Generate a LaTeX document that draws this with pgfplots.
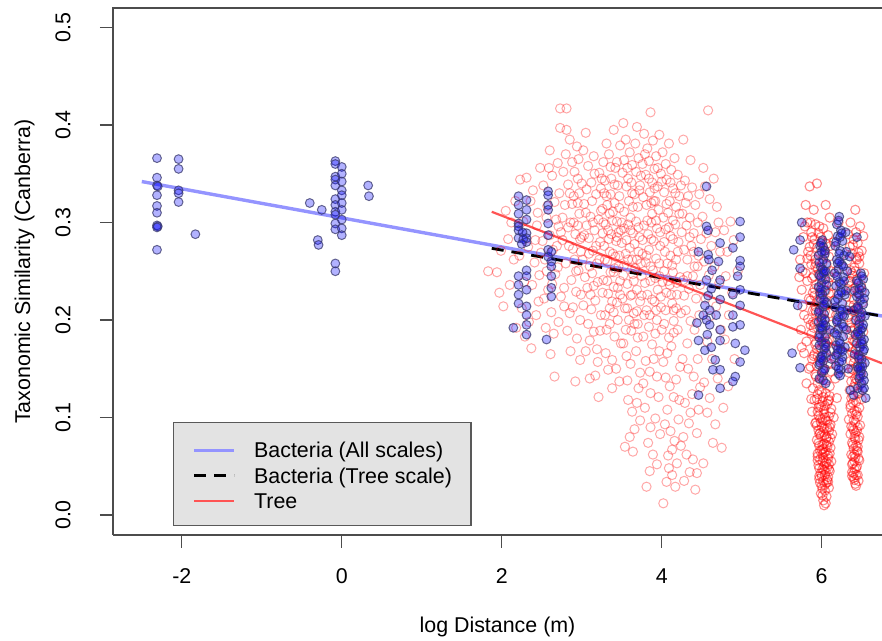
\documentclass[border=0pt]{standalone}
\usepackage{fontspec}
\setmainfont{Liberation Sans}
\usepackage{pgfplots}
\pgfplotsset{compat=1.18}
\definecolor{bline}{rgb}{0.58,0.58,1}
\definecolor{bedge}{rgb}{0.22,0.22,0.42}
\definecolor{rline}{rgb}{1,0.33,0.33}
\begin{document}
\fontsize{10.7pt}{12.8pt}\selectfont
\begin{tikzpicture}
\begin{axis}[
 at={(0pt,0pt)}, anchor=south west,
 scale only axis, width=384.5pt, height=263.35pt,
 xmin=-2.86, xmax=6.754, ymin=-0.0205, ymax=0.5197,
 axis x line*=bottom, axis y line*=left,
 axis line style={black!70, line width=1pt},
 tick align=outside, major tick length=6.5pt,
 major tick style={black!70, line width=0.7pt},
 xtick={-2,0,2,4,6}, xticklabels={-2,0,2,4,6},
 ytick={0,0.1,0.2,0.3,0.4,0.5}, yticklabels={0.0,0.1,0.2,0.3,0.4,0.5},
 tick label style={font=\fontsize{10.7pt}{12.8pt}\selectfont},
 label style={font=\fontsize{10.7pt}{12.8pt}\selectfont},
 xticklabel style={anchor=center, yshift=-14.25pt},
 yticklabel style={xshift=-18.5pt, rotate=90, anchor=center},
 xlabel={log Distance (m)}, ylabel={Taxonomic Similarity (Canberra)},
 xlabel style={at={(axis description cs:0.5,-0.1754)}, anchor=center},
 ylabel style={at={(axis description cs:-0.1151,0.5)}, anchor=center},
 legend style={at={(axis cs:-2.109,-0.0113)}, anchor=south west, fill=gray!22, draw=black!65, line width=0.7pt,
   inner xsep=9.5pt, inner ysep=7.65pt, row sep=2.2pt, column sep=9pt,
   font=\fontsize{10.7pt}{12.8pt}\selectfont,
   nodes={inner sep=0pt, text height=10pt, text depth=0.55pt},
   cells={anchor=base west}},
 legend image code/.code={\draw[#1] (0pt,3.8pt) -- (20pt,3.8pt);},
 after end axis/.code={\draw[black!70, line width=1pt, line join=miter] (rel axis cs:0,0.5) -- (rel axis cs:0,1) -- (rel axis cs:1,1);},
]
% Tree points: main cloud
\addplot[only marks, mark=o, mark size=2.3pt, forget plot,
  mark options={draw=red, draw opacity=0.34, line width=0.5pt}] coordinates {
(1.83,.250) (1.94,.249) (2.02,.214) (2.08,.283) (2.12,.300) (1.97,.228) (2.15,.262) (2.05,.312) (2.18,.192) (2.10,.236) (1.99,.271) (2.17,.322)
(2.23,.344) (2.27,.301) (2.33,.275) (2.36,.322) (2.41,.259) (2.44,.297) (2.48,.356) (2.25,.212) (2.29,.183) (2.38,.236) (2.46,.219) (2.39,.333) (2.42,.282) (2.47,.246) (2.34,.198) (2.31,.346) (2.45,.310) (2.22,.266) (2.37,.171) (2.49,.269) (2.28,.239) (2.43,.205)
(2.73,.417) (2.73,.397) (2.52,.338) (2.56,.305) (2.60,.287) (2.63,.348) (2.66,.321) (2.70,.361) (2.71,.296) (2.54,.262) (2.58,.231) (2.62,.208) (2.67,.247) (2.69,.276) (2.72,.330) (2.55,.192) (2.61,.165) (2.65,.186) (2.74,.224) (2.59,.356) (2.64,.272) (2.68,.303) (2.51,.281) (2.57,.317) (2.70,.254) (2.53,.222) (2.66,.142) (2.74,.290) (2.60,.374) (2.63,.237) (2.71,.198) (2.56,.250)
(2.81,.417) (2.81,.395) (2.94,.378) (2.98,.200) (2.85,.207) (2.98,.159) (2.77,.352) (2.79,.318) (2.83,.339) (2.86,.300) (2.88,.362) (2.90,.327) (2.92,.288) (2.95,.345) (2.97,.309) (2.99,.270) (2.76,.282) (2.80,.258) (2.84,.276) (2.87,.241) (2.91,.262) (2.93,.229) (2.96,.251) (2.78,.233) (2.82,.189) (2.89,.213) (2.94,.181) (2.99,.226) (2.86,.168) (2.76,.305) (2.83,.295) (2.88,.319) (2.91,.352) (2.95,.297) (2.97,.330) (2.80,.370) (2.85,.385) (2.92,.137) (2.98,.283) (2.89,.273) (2.78,.214) (2.96,.365)
(3.02,.374) (3.10,.179) (3.20,.157) (3.21,.121) (3.05,.392) (3.08,.358) (3.12,.341) (3.15,.368) (3.18,.329) (3.22,.351) (3.24,.312) (3.03,.319) (3.06,.297) (3.09,.284) (3.11,.306) (3.14,.271) (3.16,.292) (3.19,.258) (3.23,.280) (3.01,.262) (3.04,.244) (3.07,.233) (3.13,.248) (3.17,.220) (3.20,.239) (3.24,.205) (3.02,.215) (3.08,.196) (3.12,.211) (3.15,.188) (3.19,.170) (3.23,.189) (3.05,.168) (3.10,.140) (3.17,.143) (3.06,.334) (3.13,.322) (3.21,.303) (3.09,.268) (3.18,.276) (3.03,.287) (3.14,.300) (3.22,.262) (3.11,.226) (3.16,.350) (3.24,.335)
(3.31,.381) (3.40,.395) (3.31,.190) (3.33,.149) (3.38,.130) (3.27,.362) (3.29,.343) (3.34,.370) (3.36,.329) (3.42,.356) (3.45,.338) (3.48,.379) (3.26,.314) (3.30,.298) (3.35,.309) (3.37,.288) (3.41,.320) (3.44,.301) (3.47,.315) (3.49,.292) (3.28,.276) (3.32,.260) (3.39,.268) (3.43,.281) (3.46,.255) (3.27,.241) (3.33,.227) (3.36,.249) (3.40,.234) (3.44,.218) (3.48,.240) (3.29,.205) (3.35,.196) (3.41,.183) (3.45,.200) (3.49,.176) (3.30,.166) (3.38,.159) (3.43,.150) (3.47,.137) (3.26,.289) (3.34,.283) (3.39,.311) (3.42,.265) (3.46,.290) (3.28,.330) (3.37,.345) (3.44,.362) (3.32,.318) (3.40,.249) (3.48,.226) (3.35,.212)
(3.52,.402) (3.69,.398) (3.52,.176) (3.57,.138) (3.54,.070) (3.64,.065) (3.73,.097) (3.73,.146) (3.65,.207) (3.55,.385) (3.60,.372) (3.63,.359) (3.67,.381) (3.71,.366) (3.74,.348) (3.51,.351) (3.56,.337) (3.59,.322) (3.62,.341) (3.66,.329) (3.70,.316) (3.53,.311) (3.58,.298) (3.61,.305) (3.64,.289) (3.68,.301) (3.72,.285) (3.50,.279) (3.55,.268) (3.60,.274) (3.63,.262) (3.67,.253) (3.71,.270) (3.74,.258) (3.52,.246) (3.57,.237) (3.61,.225) (3.65,.240) (3.69,.231) (3.73,.219) (3.54,.212) (3.59,.200) (3.62,.189) (3.66,.196) (3.70,.182) (3.56,.163) (3.61,.155) (3.68,.168) (3.71,.130) (3.58,.118) (3.63,.106) (3.66,.088) (3.60,.080) (3.69,.115) (3.53,.294) (3.64,.316) (3.72,.333) (3.57,.356)
(3.86,.413) (3.81,.029) (3.86,.090) (3.86,.125) (3.94,.142) (3.77,.183) (3.94,.200) (3.78,.391) (3.82,.376) (3.89,.384) (3.93,.368) (3.97,.390) (3.76,.360) (3.80,.349) (3.84,.363) (3.88,.341) (3.91,.355) (3.95,.337) (3.99,.350) (3.77,.326) (3.81,.318) (3.85,.331) (3.88,.309) (3.92,.322) (3.96,.313) (3.78,.297) (3.83,.288) (3.87,.300) (3.90,.281) (3.94,.294) (3.98,.276) (3.76,.268) (3.80,.259) (3.84,.272) (3.89,.251) (3.93,.263) (3.97,.245) (3.79,.238) (3.82,.226) (3.86,.240) (3.91,.219) (3.95,.231) (3.99,.213) (3.78,.205) (3.84,.193) (3.88,.175) (3.92,.186) (3.97,.168) (3.80,.158) (3.85,.147) (3.90,.160) (3.96,.121) (3.79,.110) (3.83,.074) (3.89,.062) (3.92,.099) (3.98,.083) (3.85,.045) (3.94,.052) (3.77,.135) (3.91,.335) (3.87,.283)
(4.02,.012) (4.13,.041) (4.19,.053) (4.07,.108) (4.15,.121) (4.23,.152) (4.07,.166) (4.15,.187) (4.15,.210) (4.01,.372) (4.05,.360) (4.09,.381) (4.12,.354) (4.16,.366) (4.20,.349) (4.24,.338) (4.03,.331) (4.06,.344) (4.10,.322) (4.14,.335) (4.18,.316) (4.22,.327) (4.02,.305) (4.05,.293) (4.08,.310) (4.11,.286) (4.17,.298) (4.21,.280) (4.04,.270) (4.07,.258) (4.11,.266) (4.14,.249) (4.18,.262) (4.23,.244) (4.01,.239) (4.06,.228) (4.10,.236) (4.13,.217) (4.19,.226) (4.24,.207) (4.03,.196) (4.09,.182) (4.12,.173) (4.20,.190) (4.05,.141) (4.10,.132) (4.18,.139) (4.22,.118) (4.04,.093) (4.11,.086) (4.16,.076) (4.21,.098) (4.08,.061) (4.13,.067) (4.24,.071) (4.06,.034) (4.17,.029) (4.09,.048) (4.02,.157) (4.14,.302)
(4.27,.385) (4.36,.364) (4.27,.080) (4.44,.084) (4.36,.105) (4.40,.142) (4.48,.131) (4.32,.176) (4.42,.026) (4.44,.043) (4.29,.343) (4.33,.327) (4.38,.336) (4.42,.318) (4.47,.329) (4.26,.309) (4.31,.297) (4.35,.305) (4.40,.289) (4.45,.300) (4.49,.283) (4.28,.272) (4.32,.262) (4.37,.276) (4.41,.255) (4.46,.266) (4.27,.241) (4.34,.232) (4.39,.245) (4.43,.222) (4.48,.236) (4.30,.210) (4.36,.199) (4.41,.190) (4.47,.205) (4.26,.160) (4.33,.150) (4.38,.124) (4.45,.160) (4.29,.115) (4.34,.094) (4.46,.108) (4.31,.062) (4.39,.057) (4.28,.035) (4.35,.044)
(4.52,.356) (4.58,.415) (4.69,.316) (4.52,.053) (4.64,.074) (4.75,.069) (4.57,.105) (4.54,.337) (4.60,.324) (4.65,.345) (4.71,.300) (4.51,.306) (4.56,.289) (4.62,.276) (4.67,.290) (4.73,.270) (4.53,.260) (4.59,.246) (4.66,.255) (4.72,.238) (4.55,.222) (4.61,.204) (4.68,.214) (4.74,.190) (4.57,.178) (4.63,.160) (4.70,.140) (4.53,.136) (4.60,.120) (4.67,.093)
(4.78,.292) (4.82,.270) (4.86,.301) (4.80,.245) (4.88,.228) (4.84,.205) (4.79,.180) (4.91,.160) (4.83,.132) (4.95,.250) (4.77,.110) (4.90,.282)
(3.25,.345) (3.31,.327) (3.36,.357) (3.41,.339) (3.47,.327) (3.53,.364) (3.58,.345) (3.63,.330) (3.68,.352) (3.73,.338) (3.79,.370) (3.84,.345) (3.90,.322) (3.95,.356) (4.00,.342) (4.06,.319) (4.11,.341) (4.17,.330) (4.22,.309) (3.27,.300) (3.33,.292) (3.38,.302) (3.44,.285) (3.50,.300) (3.56,.282) (3.61,.292) (3.66,.278) (3.71,.295) (3.76,.282) (3.82,.302) (3.87,.320) (3.93,.302) (3.98,.290) (4.03,.280) (4.09,.295) (4.14,.283) (4.20,.270) (4.25,.290) (3.29,.262) (3.35,.270) (3.41,.253) (3.47,.266) (3.53,.256) (3.58,.262) (3.64,.247) (3.69,.262) (3.75,.245) (3.81,.266) (3.86,.255) (3.92,.243) (3.97,.258) (4.03,.250) (4.08,.240) (4.13,.256) (4.19,.238) (3.26,.228) (3.32,.240) (3.38,.219) (3.45,.233) (3.51,.222) (3.57,.212) (3.63,.226) (3.69,.209) (3.75,.225) (3.81,.210) (3.88,.221) (3.93,.210) (3.99,.224) (4.05,.210) (4.12,.226) (4.18,.212) (3.40,.208) (3.55,.190) (3.70,.196) (3.85,.205) (4.00,.190) (4.15,.199) (4.28,.225) (2.95,.320) (3.00,.340) (3.05,.310) (2.90,.300) (2.85,.330) (3.00,.285) (3.10,.255) (2.93,.250) (3.15,.235) (4.30,.320) (4.35,.285) (4.40,.270) (4.45,.255) (4.32,.245)
};
% Tree points: dense columns
\addplot[only marks, mark=o, mark size=2.3pt, forget plot,
  mark options={draw=red, draw opacity=0.45, line width=0.55pt}] coordinates {
(5.85,.337) (5.94,.340) (5.90,.313) (6.05,.318) (5.82,.300) (6.10,.305)
(5.73,.262) (5.75,.231) (5.77,.285) (5.78,.205) (5.80,.248) (5.81,.178) (5.83,.270) (5.84,.222) (5.86,.195) (5.87,.257) (5.88,.160) (5.74,.190) (5.76,.214) (5.79,.296) (5.82,.240) (5.85,.275) (5.89,.228) (5.72,.244) (5.78,.166) (5.84,.150) (5.86,.300) (5.80,.318) (5.88,.285) (5.83,.201) (5.76,.250) (5.81,.135) (5.87,.119) (5.75,.172) (5.89,.210) (5.82,.263)
(5.92,.298) (6.02,.294) (5.96,.289) (6.08,.287) (5.91,.283) (6.00,.280) (6.11,.276) (5.94,.274) (6.04,.271) (5.98,.268) (6.09,.265) (5.92,.262) (6.01,.259) (6.06,.256) (5.95,.253) (6.12,.250) (5.99,.248) (5.90,.245) (6.03,.242) (6.08,.239) (5.93,.236) (5.97,.233) (6.05,.230) (6.11,.228) (5.91,.225) (6.00,.222) (5.95,.219) (6.07,.216) (6.02,.213) (5.92,.210) (6.10,.207) (5.98,.204) (6.04,.201) (5.94,.198) (6.12,.195) (5.90,.192) (6.01,.189) (6.06,.186) (5.96,.183) (6.09,.180) (5.93,.177) (6.03,.174) (5.99,.171) (6.11,.168) (5.91,.165) (6.05,.162) (5.97,.159) (6.08,.156) (5.94,.153) (6.02,.150) (6.12,.147) (5.92,.144) (6.00,.141) (6.06,.138) (5.95,.135) (6.10,.132)
(5.97,.296) (6.06,.278) (5.93,.258) (6.10,.244) (5.98,.226) (6.04,.209) (5.91,.196) (6.07,.178) (5.95,.163) (6.01,.148) (5.99,.285) (6.03,.266) (5.96,.247) (6.09,.227) (5.92,.214) (6.00,.199) (6.05,.184) (5.94,.170) (6.11,.155) (5.98,.139)
(5.97,.128) (6.05,.125) (6.10,.122) (5.94,.119) (6.01,.116) (6.07,.114) (5.99,.111) (6.12,.109) (5.95,.106) (6.03,.104) (6.09,.101) (5.98,.099) (6.05,.097) (5.93,.095) (6.11,.093) (6.00,.091) (6.07,.089) (5.96,.087) (6.02,.085) (6.13,.083) (5.99,.081) (6.06,.079) (5.94,.077) (6.09,.075) (6.03,.073) (5.97,.071) (6.11,.069) (6.00,.067) (6.05,.065) (5.95,.063) (6.08,.061) (6.02,.059) (5.98,.057) (6.12,.055) (6.04,.053) (5.96,.051) (6.07,.049) (6.01,.047) (6.10,.045) (5.99,.043) (6.04,.041) (6.08,.039) (5.97,.037) (6.02,.035) (6.06,.033) (6.00,.030) (6.09,.028) (6.04,.025) (5.99,.022) (6.06,.019) (6.02,.015)
(6.00,.126) (6.08,.117) (5.96,.110) (6.04,.100) (6.10,.090) (5.98,.084) (6.06,.072) (6.01,.062) (5.95,.056) (6.09,.052) (6.03,.046) (5.97,.040) (6.07,.036) (6.01,.027) (6.05,.012) (6.03,.108) (5.99,.095) (6.06,.080) (6.02,.068) (6.08,.058)
(5.95,.124) (6.02,.121) (6.09,.118) (5.97,.113) (6.04,.112) (6.11,.105) (5.96,.102) (6.01,.098) (6.07,.096) (5.94,.092) (6.03,.089) (6.09,.086) (5.97,.083) (6.04,.082) (6.11,.079) (5.96,.074) (6.01,.072) (6.07,.070) (5.98,.066) (6.03,.064) (6.10,.063) (5.95,.060) (6.01,.055) (6.06,.054) (5.97,.048) (6.03,.050) (6.09,.047) (6.00,.040) (6.05,.044) (5.98,.033) (6.04,.031) (6.08,.034) (6.01,.020) (6.03,.010)
(5.87,.290) (5.90,.278) (5.86,.266) (5.92,.255) (5.88,.243) (5.91,.232) (5.86,.220) (5.93,.208) (5.89,.198) (5.87,.186) (5.92,.175) (5.90,.163) (5.86,.152) (5.93,.142) (5.89,.130) (5.91,.118) (5.88,.106) (5.92,.094)
(6.15,.280) (6.18,.250) (6.16,.220) (6.20,.190) (6.14,.170) (6.17,.140) (6.19,.120) (6.15,.100) (6.21,.300) (6.13,.235) (6.18,.205) (6.16,.160)
(6.42,.313) (6.36,.300) (6.48,.296) (6.52,.286) (6.33,.288)
(6.40,.283) (6.45,.279) (6.35,.275) (6.50,.271) (6.38,.268) (6.43,.264) (6.32,.261) (6.47,.258) (6.41,.254) (6.36,.251) (6.53,.248) (6.39,.245) (6.44,.242) (6.34,.239) (6.49,.236) (6.42,.233) (6.37,.230) (6.46,.227) (6.31,.224) (6.40,.221) (6.51,.218) (6.35,.215) (6.44,.212) (6.39,.209) (6.48,.206) (6.33,.203) (6.42,.200) (6.37,.197) (6.46,.194) (6.41,.191) (6.52,.188) (6.35,.185) (6.44,.182) (6.39,.179) (6.49,.176) (6.33,.173) (6.43,.170) (6.38,.167) (6.47,.164) (6.41,.161) (6.36,.158) (6.50,.155) (6.44,.152) (6.39,.149) (6.34,.146) (6.46,.143) (6.42,.140) (6.37,.137) (6.48,.134) (6.40,.131) (6.35,.128) (6.45,.125) (6.39,.122) (6.50,.119) (6.43,.116) (6.36,.113) (6.47,.110) (6.41,.107) (6.38,.104) (6.45,.101) (6.34,.098) (6.42,.095) (6.48,.092) (6.39,.089) (6.44,.086) (6.36,.083) (6.41,.080) (6.46,.077) (6.38,.074) (6.43,.071) (6.40,.068) (6.45,.065) (6.37,.062) (6.42,.059) (6.47,.056) (6.39,.053) (6.44,.050) (6.41,.047) (6.38,.044) (6.43,.041) (6.40,.038) (6.46,.035) (6.42,.032)
(6.46,.269) (6.38,.248) (6.50,.230) (6.42,.211) (6.36,.192) (6.47,.173) (6.40,.156) (6.44,.139) (6.37,.120) (6.43,.103) (6.40,.087) (6.45,.070) (6.41,.055) (6.38,.040) (6.44,.262) (6.35,.235) (6.47,.199) (6.41,.178) (6.49,.145) (6.36,.110) (6.42,.078) (6.39,.060)
(6.43,.290) (6.39,.277) (6.47,.265) (6.42,.250) (6.36,.240) (6.45,.228) (6.40,.215) (6.48,.202) (6.38,.189) (6.43,.176) (6.46,.162) (6.37,.150) (6.42,.135) (6.47,.125) (6.39,.115) (6.44,.106) (6.40,.097) (6.45,.090) (6.37,.091) (6.42,.084) (6.47,.080) (6.39,.072) (6.44,.066) (6.41,.062) (6.46,.058) (6.38,.052) (6.43,.048) (6.40,.043) (6.45,.041) (6.41,.036) (6.43,.030)
};
% Bacteria points
\addplot[only marks, mark=*, mark size=2.2pt, forget plot,
  mark options={fill=blue, fill opacity=0.3, draw=bedge, draw opacity=0.75, line width=0.5pt}] coordinates {
(-2.31,0.366) (-2.31,0.346) (-2.31,0.338) (-2.30,0.337) (-2.31,0.328) (-2.31,0.317) (-2.31,0.310) (-2.31,0.297) (-2.30,0.296) (-2.31,0.295) (-2.31,0.272)
(-2.04,0.365) (-2.04,0.355) (-2.04,0.333) (-2.04,0.330) (-2.04,0.321) (-1.83,0.288)
(-0.40,0.320) (-0.25,0.313) (-0.30,0.282) (-0.29,0.277)
(-0.08,0.363) (-0.08,0.360) (-0.08,0.347) (-0.08,0.344) (-0.08,0.338) (-0.08,0.324) (-0.08,0.318) (-0.08,0.311) (-0.08,0.308) (-0.08,0.299) (-0.08,0.293) (-0.08,0.258) (-0.08,0.250)
(0.00,0.357) (0.00,0.350) (0.00,0.342) (0.00,0.333) (0.00,0.328) (0.00,0.320) (0.00,0.313) (0.00,0.303) (0.00,0.294) (0.00,0.287)
(0.33,0.338) (0.34,0.327)
(2.21,0.327) (2.21,0.318) (2.21,0.309) (2.21,0.299) (2.21,0.296) (2.21,0.292) (2.21,0.284) (2.21,0.245) (2.21,0.236) (2.21,0.226) (2.21,0.217)
(2.31,0.323) (2.31,0.313) (2.31,0.303) (2.31,0.289) (2.31,0.284) (2.31,0.280) (2.31,0.251) (2.31,0.245) (2.31,0.231) (2.31,0.214) (2.31,0.205) (2.31,0.195) (2.31,0.185) (2.145,0.192)
(2.26,0.290) (2.27,0.283) (2.25,0.278)
(2.58,0.332) (2.58,0.328) (2.58,0.318) (2.58,0.313) (2.58,0.299) (2.58,0.287) (2.58,0.272) (2.58,0.265) (2.62,0.270) (2.62,0.260) (2.62,0.255) (2.62,0.245) (2.62,0.233) (2.62,0.224) (2.56,0.180)
(4.56,0.337) (4.98,0.301) (4.98,0.285) (4.98,0.261) (4.56,0.296) (4.58,0.292) (4.73,0.279) (4.46,0.270) (4.58,0.267) (4.71,0.260) (4.89,0.274) (4.98,0.255) (4.63,0.251) (4.56,0.241) (4.73,0.241) (4.98,0.231) (4.89,0.226) (4.73,0.221) (4.54,0.215) (4.98,0.215) (4.89,0.205) (4.56,0.200) (4.44,0.197) (4.60,0.195) (4.98,0.195) (4.89,0.193) (4.73,0.190) (4.46,0.179) (4.73,0.179) (4.92,0.176) (4.54,0.169) (5.04,0.169) (4.67,0.159) (4.98,0.157) (4.64,0.149) (4.73,0.149) (4.92,0.142) (4.89,0.137) (4.73,0.130) (4.46,0.123) (4.58,0.225) (4.60,0.210) (4.57,0.185) (4.62,0.172) (4.59,0.262) (4.95,0.245) (4.62,0.232) (4.52,0.205) (4.68,0.205)
(5.75,0.300) (5.73,0.282) (5.65,0.272) (5.73,0.253) (5.70,0.215) (5.63,0.166) (5.73,0.151)
(6.01,.282) (5.98,.276) (6.04,.271) (5.96,.266) (6.02,.262) (6.06,.258) (5.99,.254) (6.03,.250) (5.97,.246) (6.05,.242) (6.00,.238) (5.96,.234) (6.04,.230) (6.01,.226) (5.98,.222) (6.06,.218) (6.02,.214) (5.97,.210) (6.03,.206) (6.00,.202) (5.96,.198) (6.05,.194) (6.01,.190) (5.98,.186) (6.04,.182) (6.00,.178) (5.97,.174) (6.03,.170) (6.06,.166) (5.99,.162) (6.02,.158) (5.97,.154) (6.04,.150) (6.00,.146) (6.02,.275) (5.99,.244) (6.03,.216) (5.98,.192) (6.05,.176) (6.01,.252)
(5.99,.279) (6.04,.268) (5.97,.259) (6.02,.248) (6.06,.236) (5.98,.228) (6.03,.220) (5.96,.208) (6.04,.200) (6.00,.192) (5.97,.182) (6.05,.172) (6.01,.164) (5.98,.156) (6.03,.148) (6.00,.270) (6.05,.250) (5.99,.232) (6.02,.196) (6.00,.160) (5.97,.140) (6.02,.138)
(6.22,.306) (6.19,.298) (6.24,.292) (6.20,.286) (6.26,.281) (6.17,.276) (6.23,.271) (6.28,.266) (6.19,.262) (6.25,.257) (6.21,.252) (6.16,.248) (6.27,.244) (6.22,.239) (6.18,.235) (6.24,.230) (6.29,.226) (6.20,.222) (6.26,.217) (6.17,.213) (6.23,.209) (6.28,.204) (6.19,.200) (6.25,.196) (6.21,.191) (6.16,.187) (6.27,.183) (6.22,.179) (6.18,.174) (6.24,.170) (6.20,.166) (6.26,.162) (6.22,.157) (6.18,.153) (6.24,.149) (6.21,.145) (6.30,.290) (6.31,.270) (6.32,.250) (6.30,.230) (6.32,.210) (6.31,.190) (6.29,.172) (6.23,.285) (6.20,.258) (6.25,.228) (6.19,.198) (6.26,.168)
(6.21,.302) (6.25,.289) (6.18,.280) (6.22,.268) (6.27,.255) (6.19,.245) (6.24,.237) (6.21,.226) (6.17,.219) (6.25,.211) (6.21,.203) (6.27,.193) (6.19,.185) (6.23,.176) (6.20,.170) (6.25,.158) (6.21,.150) (6.28,.240) (6.22,.260) (6.26,.205) (6.18,.164) (6.23,.143)
(6.49,.248) (6.52,.242) (6.46,.238) (6.50,.233) (6.54,.228) (6.44,.224) (6.48,.220) (6.52,.216) (6.46,.212) (6.50,.208) (6.54,.204) (6.43,.200) (6.47,.196) (6.51,.192) (6.45,.188) (6.49,.184) (6.53,.180) (6.44,.176) (6.48,.172) (6.52,.168) (6.46,.164) (6.50,.160) (6.54,.156) (6.45,.152) (6.49,.148) (6.52,.144) (6.47,.140) (6.50,.135) (6.41,.230) (6.40,.210) (6.42,.185) (6.41,.165) (6.47,.226) (6.51,.175) (6.48,.152)
(6.50,.245) (6.47,.232) (6.53,.222) (6.45,.214) (6.49,.203) (6.52,.195) (6.46,.186) (6.50,.178) (6.53,.170) (6.47,.160) (6.51,.152) (6.48,.143) (6.53,.138) (6.45,.130) (6.51,.128) (6.44,.240) (6.49,.190) (6.46,.150)
(6.44,.285) (6.35,.265) (6.10,.190) (6.12,.160) (6.05,.135) (6.33,.150) (6.36,.128) (6.40,.123) (6.55,.120) (6.53,.130)
};
% regression lines
\addplot[bline, line width=1.7pt] coordinates {(-2.5,0.342) (6.754,0.2041)};
\addlegendentry{Bacteria (All scales)}
\addplot[black, line width=1.4pt, dash pattern=on 6pt off 4pt] coordinates {(1.875,0.2735) (6.754,0.204)};
\addlegendentry{Bacteria (Tree scale)}
\addplot[rline, line width=1.1pt] coordinates {(1.875,0.311) (6.754,0.1556)};
\addlegendentry{Tree}
\end{axis}
\pgfresetboundingbox
\path[use as bounding box] (-56.5pt,-53pt) rectangle (384.5pt,267.5pt);
\end{tikzpicture}
\end{document}
